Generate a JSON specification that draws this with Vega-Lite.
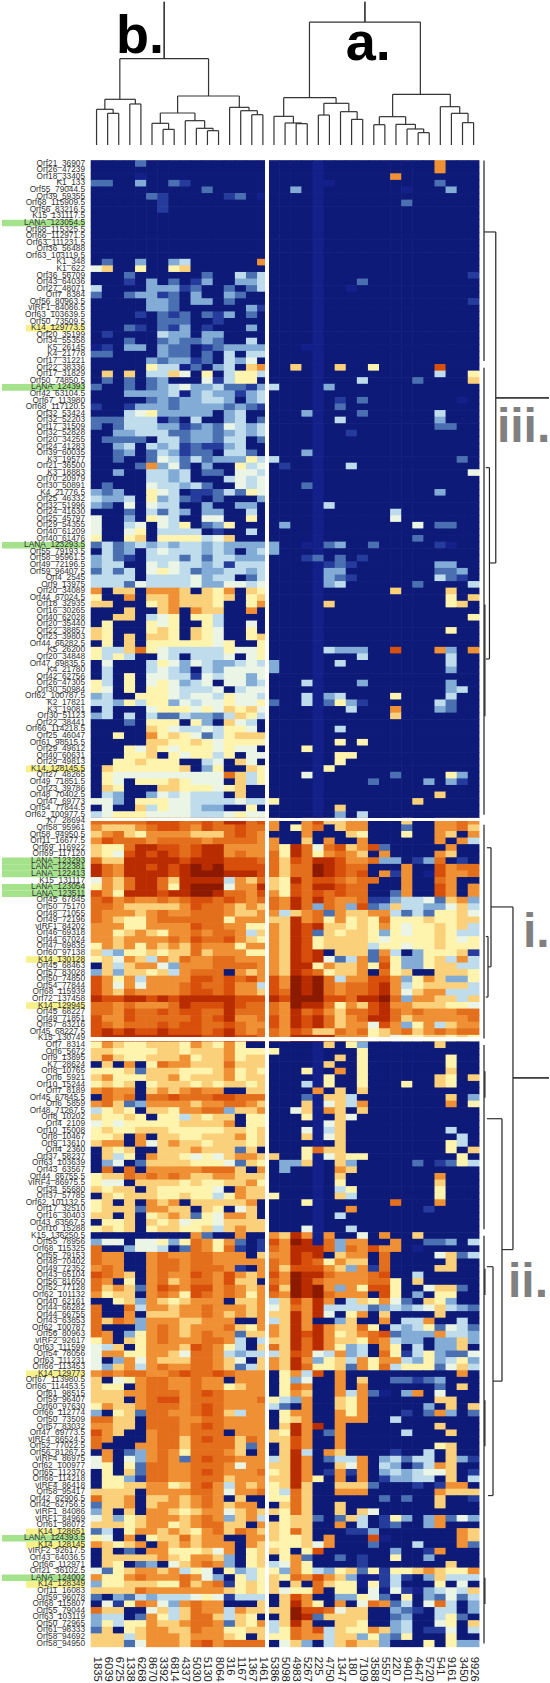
{"$schema":"https://vega.github.io/schema/vega-lite/v6.json","width":550,"height":1683,"padding":0,"autosize":{"type":"none"},"background":"white","config":{"view":{"stroke":null},"axis":{"disable":true}},
"datasets":{
"cols":[{"c":1,"n":"1835"},{"c":2,"n":"6039"},{"c":3,"n":"6725"},{"c":4,"n":"1338"},{"c":5,"n":"6268"},{"c":6,"n":"8670"},{"c":7,"n":"3392"},{"c":8,"n":"6814"},{"c":9,"n":"4337"},{"c":10,"n":"5030"},{"c":11,"n":"5130"},{"c":12,"n":"8064"},{"c":13,"n":"316"},{"c":14,"n":"1167"},{"c":15,"n":"1367"},{"c":16,"n":"1461"},{"c":17,"n":"5386"},{"c":18,"n":"5098"},{"c":19,"n":"4983"},{"c":20,"n":"5267"},{"c":21,"n":"225"},{"c":22,"n":"4750"},{"c":23,"n":"1347"},{"c":24,"n":"180"},{"c":25,"n":"7109"},{"c":26,"n":"3588"},{"c":27,"n":"5557"},{"c":28,"n":"220"},{"c":29,"n":"9401"},{"c":30,"n":"4647"},{"c":31,"n":"5720"},{"c":32,"n":"541"},{"c":33,"n":"9161"},{"c":34,"n":"3450"},{"c":35,"n":"9926"}],
"td":[{"a":2,"b":3,"t":-6.67,"l":-1.85,"r":-1.85},{"a":1,"b":2.5,"t":-7.28,"l":-1.85,"r":-6.67},{"a":4,"b":5,"t":-8.09,"l":-1.85,"r":-1.85},{"a":1.75,"b":4.5,"t":-8.8,"l":-7.28,"r":-8.09},{"a":7,"b":8,"t":-4.23,"l":-1.85,"r":-1.85},{"a":6,"b":7.5,"t":-5.15,"l":-1.85,"r":-4.23},{"a":11,"b":12,"t":-4.03,"l":-1.85,"r":-1.85},{"a":10,"b":11.5,"t":-4.39,"l":-1.85,"r":-4.03},{"a":9,"b":10.75,"t":-5.55,"l":-1.85,"r":-4.39},{"a":6.75,"b":9.875,"t":-6.72,"l":-5.15,"r":-5.55},{"a":15,"b":16,"t":-6.46,"l":-1.85,"r":-1.85},{"a":14,"b":15.5,"t":-7.07,"l":-1.85,"r":-6.46},{"a":13,"b":14.75,"t":-7.58,"l":-1.85,"r":-7.07},{"a":8.31,"b":13.875,"t":-9.3,"l":-6.72,"r":-7.58},{"a":3.1,"b":11.1,"t":-14.98,"l":-8.8,"r":-9.3},{"a":7.1,"b":7.1,"t":-23.65,"l":-14.98,"r":-14.98},{"a":19,"b":20,"t":-5.1,"l":-1.85,"r":-1.85},{"a":18,"b":19.5,"t":-5.2,"l":-1.85,"r":-5.1},{"a":17,"b":18.75,"t":-6.21,"l":-1.85,"r":-5.2},{"a":21,"b":22,"t":-6.41,"l":-1.85,"r":-1.85},{"a":24,"b":25,"t":-5.75,"l":-1.85,"r":-1.85},{"a":23,"b":24.5,"t":-6.92,"l":-1.85,"r":-5.75},{"a":21.5,"b":23.75,"t":-8.19,"l":-6.41,"r":-6.92},{"a":17.875,"b":22.6,"t":-9.05,"l":-6.21,"r":-8.19},{"a":26,"b":27,"t":-4.94,"l":-1.85,"r":-1.85},{"a":30,"b":31,"t":-3.73,"l":-1.85,"r":-1.85},{"a":29,"b":30.5,"t":-4.29,"l":-1.85,"r":-3.73},{"a":28,"b":29.75,"t":-4.99,"l":-1.85,"r":-4.29},{"a":26.5,"b":28.875,"t":-6.16,"l":-4.94,"r":-4.99},{"a":34,"b":35,"t":-5.25,"l":-1.85,"r":-1.85},{"a":33,"b":34.5,"t":-6.67,"l":-1.85,"r":-5.25},{"a":32,"b":33.75,"t":-7.68,"l":-1.85,"r":-6.67},{"a":27.7,"b":32.9,"t":-9.56,"l":-6.16,"r":-7.68},{"a":20.2,"b":30.2,"t":-20.55,"l":-9.05,"r":-9.56},{"a":25.2,"b":25.2,"t":-23.65,"l":-20.55,"r":-20.55}],
"rd":[{"a":0.5,"b":31,"t":35.94,"l":35.94,"r":35.94},{"a":32,"b":100,"t":35.94,"l":35.94,"r":35.94},{"a":101.5,"b":134,"t":35.94,"l":35.94,"r":35.94},{"a":135,"b":163,"t":35.94,"l":35.94,"r":35.94},{"a":164,"b":226,"t":35.94,"l":35.94,"r":35.94},{"a":68,"b":85,"t":36.02,"l":36.02,"r":36.02},{"a":139,"b":143,"t":36.02,"l":36.02,"r":36.02},{"a":169,"b":173,"t":36.02,"l":36.02,"r":36.02},{"a":189,"b":196,"t":36.02,"l":36.02,"r":36.02},{"a":216,"b":220,"t":36.02,"l":36.02,"r":36.02},{"a":11.37,"b":61.7,"t":37,"l":35.94,"r":36.43},{"a":47.2,"b":76.3,"t":36.43,"l":36.1,"r":36.1},{"a":36.6,"b":36.6,"t":41.8,"l":37,"r":37},{"a":114,"b":166.1,"t":38.55,"l":36.57,"r":37.56},{"a":140,"b":140,"t":41.8,"l":38.55,"r":38.55},{"a":105,"b":123.1,"t":36.57,"l":36.2,"r":36.3},{"a":118.5,"b":127.7,"t":36.3,"l":36.1,"r":36.1},{"a":146.2,"b":186.1,"t":37.56,"l":36.2,"r":36.75},{"a":168.7,"b":203.5,"t":36.75,"l":36.2,"r":36.3}],
"ann":[{"s":"b.","x":4.92,"y":-15.84,"f":"k"},{"s":"a.","x":25.5,"y":-14.8,"f":"k"},{"s":"iii.","x":37.1,"y":43.3,"f":"g"},{"s":"i.","x":39.45,"y":120.1,"f":"g"},{"s":"ii.","x":38.1,"y":173.3,"f":"g"}]
},
"data":{"values":[
{"r":1,"n":"Orf21_36907","v":[0,0,0,0,3,0,0,0,0,0,0,0,0,0,0,0,0,0,0,0,1,0,0,0,0,0,0,0,0,0,0,9,0,0,0]},
{"r":2,"n":"Orf26_47239","v":[0,0,0,0,0,0,0,0,0,0,0,0,0,0,0,0,0,0,0,0,1,0,0,0,0,0,0,0,0,0,0,9,0,0,0]},
{"r":3,"n":"Orf18_33405","v":[0,0,0,0,1,0,0,0,0,0,0,0,0,0,0,0,0,0,0,0,1,0,0,0,0,0,0,9,0,0,0,0,0,0,0]},
{"r":4,"n":"K1_133","v":[3,3,0,0,4,0,0,3,2,0,0,0,0,0,0,0,0,0,0,0,1,1,0,0,0,0,0,0,0,0,0,3,0,0,0]},
{"r":5,"n":"Orf55_79044.5","v":[0,0,0,0,0,0,0,0,0,0,3,0,0,0,0,0,0,0,4,0,1,0,0,0,0,0,0,0,1,0,0,0,4,0,0]},
{"r":6,"n":"Orf39_59355","v":[0,0,0,0,0,3,2,0,0,0,0,0,2,3,0,1,0,0,0,0,1,0,0,0,0,0,0,0,0,0,0,0,0,0,0]},
{"r":7,"n":"Orf68_115909.5","v":[0,0,0,0,0,0,2,0,0,0,0,0,0,0,0,0,0,0,0,0,1,0,0,0,0,0,0,0,3,0,0,0,0,0,0]},
{"r":8,"n":"Orf56_83216.5","v":[0,0,0,0,0,0,2,0,0,0,0,0,0,0,0,0,0,0,0,0,1,0,0,0,0,0,0,0,0,0,0,0,0,0,0]},
{"r":9,"n":"K15_131117.5","v":[0,0,0,0,0,0,0,0,0,0,0,0,0,0,0,0,0,0,0,0,1,0,0,0,0,0,0,0,0,0,0,0,0,0,0]},
{"r":10,"n":"LANA_123054.5","v":[0,0,0,0,0,0,0,0,0,0,0,0,0,0,0,0,0,0,0,0,1,0,0,0,0,0,0,0,0,0,0,0,0,0,0]},
{"r":11,"n":"Orf68_115325.5","v":[0,0,0,0,0,0,0,0,0,0,0,0,0,0,0,0,0,0,0,0,1,0,0,0,0,0,0,0,0,0,0,0,0,0,0]},
{"r":12,"n":"Orf66_112971.5","v":[0,0,0,0,0,0,0,0,0,0,0,0,0,0,0,0,0,0,0,0,1,0,0,0,0,0,0,0,0,0,0,0,0,0,0]},
{"r":13,"n":"Orf63_111231.5","v":[0,0,0,0,0,0,0,0,0,0,0,0,0,0,0,0,0,0,0,0,1,0,0,0,0,0,0,0,0,0,0,0,0,0,0]},
{"r":14,"n":"Orf36_56488","v":[0,0,0,0,0,0,0,0,0,0,0,0,0,0,0,0,0,0,0,0,1,0,0,0,0,0,0,0,0,0,0,0,0,0,0]},
{"r":15,"n":"Orf63_103119.5","v":[0,0,0,0,0,0,0,0,0,0,0,0,0,0,0,0,0,0,0,0,1,0,0,0,0,0,0,0,0,0,0,0,0,0,0]},
{"r":16,"n":"K1_348","v":[0,3,0,0,4,0,0,4,5,0,0,0,0,0,0,9,0,0,0,0,1,0,0,0,0,0,0,0,0,0,0,0,0,0,0]},
{"r":17,"n":"K1_622","v":[6,8,0,0,7,0,0,7,8,0,0,0,0,0,0,0,0,0,0,0,1,0,0,0,0,0,0,0,0,0,0,0,0,0,0]},
{"r":18,"n":"Orf36_56709","v":[0,0,0,3,0,0,0,0,0,0,3,0,0,5,3,5,0,0,0,0,1,0,0,0,0,0,0,0,0,0,0,0,0,0,2]},
{"r":19,"n":"Orf43_64036","v":[0,0,0,2,0,4,0,3,0,2,4,0,0,4,4,5,0,0,0,0,1,0,0,0,3,0,0,0,0,0,0,0,0,0,0]},
{"r":20,"n":"Orf27_48071","v":[5,0,0,0,0,4,4,4,2,3,0,0,3,0,3,5,0,0,0,0,1,0,0,1,0,0,0,0,0,0,0,0,0,0,0]},
{"r":21,"n":"Orf7_8384","v":[3,0,0,3,4,4,2,3,0,4,0,0,4,3,0,0,0,0,0,0,1,0,0,0,0,0,0,0,0,0,0,0,0,0,0]},
{"r":22,"n":"Orf56_80963.5","v":[0,0,0,0,0,4,4,3,0,4,4,0,3,0,0,0,0,0,0,0,1,0,0,0,0,0,0,0,0,0,0,0,0,0,2]},
{"r":23,"n":"vIRF1_84086.5","v":[0,0,0,0,0,4,4,3,0,0,0,0,0,0,4,2,0,0,0,0,1,0,0,0,0,0,0,0,0,0,0,0,0,0,0]},
{"r":24,"n":"Orf63_103639.5","v":[0,0,0,0,2,0,3,2,3,0,3,2,4,0,3,0,0,0,0,0,1,0,0,0,0,0,0,0,0,0,0,0,0,0,0]},
{"r":25,"n":"Orf50_73509.5","v":[0,0,0,0,0,0,3,3,3,0,0,2,0,0,0,0,0,0,0,0,1,0,0,0,0,0,0,0,0,0,0,0,0,0,0]},
{"r":26,"n":"K14_129773.5","v":[0,0,0,3,2,0,3,2,4,0,2,0,0,0,4,0,0,0,0,0,1,0,0,0,0,0,0,0,0,0,0,0,0,0,0]},
{"r":27,"n":"Orf20_35199","v":[0,2,0,0,0,0,5,4,4,0,4,4,0,0,0,0,0,0,0,0,1,0,0,0,0,0,0,0,0,0,0,0,0,0,0]},
{"r":28,"n":"Orf34_55358","v":[0,0,0,3,0,0,3,4,3,3,4,3,0,0,5,0,0,0,0,0,1,0,0,0,0,0,0,0,0,0,0,0,0,0,0]},
{"r":29,"n":"K5_26145","v":[1,2,0,4,4,0,4,3,3,0,2,3,4,4,4,4,0,0,0,1,1,0,0,0,0,0,0,0,0,0,0,0,0,0,0]},
{"r":30,"n":"K4_21778","v":[3,3,0,0,0,0,4,3,3,0,3,0,5,0,5,5,0,0,0,0,1,0,0,0,0,0,0,0,0,0,0,0,0,0,0]},
{"r":31,"n":"Orf17_31221","v":[0,0,0,0,0,4,3,4,4,2,3,0,5,4,6,0,0,0,0,0,1,0,0,0,0,0,0,0,0,0,0,0,0,0,0]},
{"r":32,"n":"Orf22_38336","v":[0,0,0,0,0,7,5,5,1,3,0,4,5,0,8,9,0,0,8,0,1,0,8,0,0,7,0,0,0,0,0,11,0,0,0]},
{"r":33,"n":"Orf17_31829","v":[0,8,0,8,0,5,5,8,6,0,7,0,5,7,7,5,0,0,0,0,1,0,0,0,0,0,0,0,0,0,0,5,0,0,7]},
{"r":34,"n":"Orf50_74850.5","v":[0,3,0,3,0,3,4,0,0,0,6,2,5,7,7,0,0,0,0,0,1,0,0,0,5,0,0,0,0,3,0,0,0,0,8]},
{"r":35,"n":"LANA_124393","v":[3,0,0,3,0,3,4,5,6,4,4,5,3,3,2,4,5,0,0,0,1,4,0,0,0,0,0,0,0,0,0,0,0,0,0]},
{"r":36,"n":"Orf42_63104.5","v":[0,0,0,4,4,4,4,5,1,4,5,4,4,2,4,5,0,0,0,0,1,0,0,0,0,0,0,0,0,0,0,0,0,0,0]},
{"r":37,"n":"Orf67_113980","v":[0,0,0,0,0,3,4,3,4,4,5,5,4,0,4,5,0,0,0,0,1,0,2,0,3,0,0,0,0,0,0,0,0,1,0]},
{"r":38,"n":"Orf68_117120.5","v":[2,0,0,2,4,4,4,3,4,4,4,4,3,4,3,2,0,0,0,0,1,0,3,0,0,0,0,0,0,0,0,0,0,0,0]},
{"r":39,"n":"Orf32_53424","v":[0,0,0,5,6,7,4,4,4,4,4,0,4,5,0,0,0,0,0,4,1,0,0,0,3,0,0,0,0,0,0,5,0,0,0]},
{"r":40,"n":"Orf32_52203","v":[3,3,3,5,5,5,1,3,0,5,0,0,4,5,0,3,0,0,0,0,1,0,5,0,0,0,0,0,0,0,0,4,0,0,0]},
{"r":41,"n":"Orf17_31509","v":[3,0,3,5,5,5,4,4,2,3,4,3,6,5,4,5,0,0,0,0,1,0,0,0,0,0,0,0,0,0,0,3,3,0,0]},
{"r":42,"n":"Orf32_52828","v":[0,0,4,4,5,5,5,3,3,4,4,3,4,5,4,5,0,0,0,0,1,0,0,2,0,0,0,0,0,0,0,0,0,0,0]},
{"r":43,"n":"Orf20_34255","v":[0,3,3,3,3,0,5,5,3,4,4,3,5,5,0,3,0,0,0,0,1,0,0,0,0,0,0,0,0,0,0,0,0,0,0]},
{"r":44,"n":"Orf24_41283","v":[0,0,4,5,0,5,4,5,2,3,2,2,4,5,0,0,0,0,0,0,1,0,0,0,0,0,0,0,0,0,0,0,0,0,0]},
{"r":45,"n":"Orf39_60035","v":[0,0,3,4,0,3,5,4,2,3,3,0,5,5,3,0,0,0,0,4,1,0,0,0,0,0,0,0,0,0,0,0,0,0,0]},
{"r":46,"n":"K3_19577","v":[0,0,3,0,0,3,6,5,3,5,3,4,4,4,7,5,5,0,0,0,1,0,0,0,0,0,0,0,0,0,0,0,0,3,0]},
{"r":47,"n":"Orf21_36500","v":[0,0,0,0,3,9,4,6,3,0,4,0,0,7,5,6,0,2,0,0,1,0,0,5,0,0,0,0,0,0,0,0,0,0,0]},
{"r":48,"n":"K3_18883","v":[0,0,4,0,0,5,5,4,5,0,3,3,0,6,6,5,0,0,0,0,1,0,0,0,0,0,0,0,0,0,0,0,0,0,6]},
{"r":49,"n":"Orf70_20979","v":[0,0,0,0,0,5,5,4,5,0,0,0,5,6,5,6,0,0,0,0,1,0,0,0,0,0,0,0,0,0,0,0,0,0,0]},
{"r":50,"n":"Orf30_50891","v":[0,3,0,0,0,6,5,5,4,5,3,0,0,6,5,6,0,0,0,3,1,0,0,0,0,0,0,0,0,0,0,0,0,0,0]},
{"r":51,"n":"K4_21776.5","v":[4,3,4,0,0,7,6,5,0,2,2,3,5,3,7,6,0,0,0,0,1,0,0,0,0,0,0,0,0,0,0,4,0,0,0]},
{"r":52,"n":"Orf25_46332","v":[5,4,4,5,0,7,4,5,3,2,0,3,0,0,0,4,0,0,0,0,1,0,0,0,0,0,0,0,0,0,0,0,0,0,0]},
{"r":53,"n":"Orf32_51996","v":[4,3,0,6,0,6,5,5,0,0,4,0,0,4,4,0,0,0,0,0,1,5,0,0,0,0,0,0,0,0,0,0,0,0,0]},
{"r":54,"n":"Orf24_41630","v":[0,0,0,3,0,5,3,5,4,0,4,4,0,0,5,0,0,0,0,0,1,0,0,0,0,0,0,5,0,0,0,0,0,0,0]},
{"r":55,"n":"Orf25_45797","v":[6,0,0,4,0,7,6,5,0,0,6,6,0,0,7,0,0,0,0,0,1,0,0,0,0,0,0,6,0,0,0,0,0,0,0]},
{"r":56,"n":"Orf29_54355","v":[6,0,0,5,6,0,6,5,7,0,3,4,7,0,0,0,0,4,0,0,1,0,0,0,0,0,0,0,0,6,0,3,3,0,0]},
{"r":57,"n":"Orf40_61209","v":[6,0,0,6,7,0,5,5,5,5,0,2,0,0,5,0,0,0,0,0,1,0,0,0,0,0,0,0,0,0,0,0,0,0,0]},
{"r":58,"n":"Orf40_61476","v":[7,0,0,7,8,0,7,7,7,7,5,6,8,0,0,0,0,0,0,0,1,0,0,0,0,0,0,0,0,3,0,0,0,0,0]},
{"r":59,"n":"LANA_123293.5","v":[3,5,3,4,5,4,5,4,5,5,4,5,4,4,4,4,4,0,0,1,1,3,4,0,0,3,0,0,0,0,0,2,1,0,0]},
{"r":60,"n":"Orf55_79193.5","v":[0,5,3,4,0,5,6,5,5,5,4,5,4,0,4,5,4,0,0,0,1,0,0,0,0,0,0,0,0,0,0,0,0,0,0]},
{"r":61,"n":"Orf58_95961.5","v":[4,5,3,2,0,5,5,5,3,5,3,5,5,4,4,4,0,0,0,2,3,0,3,0,2,0,0,0,0,0,0,0,0,0,0]},
{"r":62,"n":"Orf49_72196.5","v":[4,5,5,0,0,6,5,6,5,5,4,5,2,5,5,5,0,0,0,0,1,2,3,2,0,0,0,0,0,0,0,4,4,0,0]},
{"r":63,"n":"Orf59_96407.5","v":[3,5,3,5,0,6,7,6,5,3,4,4,5,5,4,5,0,0,0,0,1,4,4,0,0,0,0,0,0,0,0,3,3,4,0]},
{"r":64,"n":"Orf4_2545","v":[5,5,5,5,0,5,5,5,5,6,4,5,5,0,3,5,0,0,0,0,1,4,3,2,0,0,0,0,0,0,0,5,3,2,0]},
{"r":65,"n":"Orf9_13975","v":[5,5,5,3,6,5,5,5,5,6,4,4,6,6,5,6,0,0,0,0,1,4,5,0,0,0,0,0,0,3,0,0,0,0,5]},
{"r":66,"n":"Orf20_34089","v":[9,0,8,8,0,9,9,9,8,0,8,7,9,0,8,7,0,0,0,0,1,0,0,0,0,0,0,8,0,0,0,0,8,0,0]},
{"r":67,"n":"Orf44_67024.5","v":[7,0,0,9,0,8,8,9,8,8,8,7,8,0,7,8,0,0,0,0,1,0,0,0,0,0,0,0,0,0,0,0,7,0,8]},
{"r":68,"n":"Orf18_32935","v":[8,8,0,0,0,7,8,9,8,8,8,7,0,0,7,9,0,0,0,0,1,8,0,0,0,0,0,0,0,0,0,0,7,8,0]},
{"r":69,"n":"Orf16_30265","v":[0,0,0,8,0,0,8,9,0,9,8,8,0,0,9,0,0,0,0,0,1,0,0,0,0,0,0,0,0,0,0,0,0,0,0]},
{"r":70,"n":"Orf40_62028","v":[0,0,8,8,0,5,6,7,0,7,7,5,0,0,0,0,0,0,0,0,1,0,0,0,0,0,0,0,0,0,0,0,0,0,7]},
{"r":71,"n":"Orf20_35440","v":[0,7,0,0,0,7,6,7,0,0,7,5,0,0,6,0,0,0,0,0,1,0,0,0,0,0,0,0,0,0,0,0,0,0,0]},
{"r":72,"n":"Orf22_38857","v":[8,7,0,0,0,7,8,7,0,8,7,6,0,0,7,0,0,0,0,0,1,0,0,0,0,0,0,0,0,0,0,0,7,0,0]},
{"r":73,"n":"Orf23_39803","v":[8,7,0,8,0,8,8,7,0,8,7,6,0,0,7,8,0,0,0,0,1,0,0,0,0,0,0,0,0,0,0,0,0,0,0]},
{"r":74,"n":"Orf44_66282.5","v":[0,7,0,8,0,7,7,7,7,7,7,6,7,0,0,7,0,0,0,0,1,0,0,0,0,0,0,0,0,0,0,0,0,0,0]},
{"r":75,"n":"K5_26200","v":[7,5,5,8,10,7,6,5,5,5,5,5,7,6,6,7,0,0,0,0,1,5,4,4,4,0,0,11,0,0,0,9,4,0,9]},
{"r":76,"n":"Orf20_34848","v":[7,5,7,5,0,0,6,5,0,5,5,5,6,0,6,7,0,0,0,0,1,0,0,0,5,0,0,0,0,0,0,0,5,0,0]},
{"r":77,"n":"Orf47_69835.5","v":[0,6,0,0,0,5,7,6,4,6,5,4,4,5,6,5,4,0,0,0,1,0,5,0,0,0,0,0,0,0,0,0,5,0,0]},
{"r":78,"n":"K4_21780","v":[0,5,0,0,0,5,6,5,4,0,5,4,6,6,6,6,4,0,0,0,1,0,0,0,0,0,0,0,0,0,0,0,4,0,0]},
{"r":79,"n":"Orf42_62756","v":[0,5,0,7,0,6,6,5,5,2,6,5,6,6,4,6,0,0,0,0,1,0,0,0,0,0,0,0,0,0,0,0,0,0,0]},
{"r":80,"n":"Orf26_47305","v":[7,5,0,7,0,6,7,6,4,5,6,0,6,6,4,5,0,0,0,5,1,0,0,0,4,0,0,0,0,0,0,0,4,0,0]},
{"r":81,"n":"Orf30_50984","v":[7,6,0,7,0,7,7,6,5,5,5,6,0,5,6,6,0,0,0,0,1,0,0,0,0,0,0,0,0,0,0,0,4,5,0]},
{"r":82,"n":"Orf62_100787.5","v":[4,5,0,0,7,7,7,6,5,6,6,5,7,6,6,5,0,0,0,5,1,4,5,0,0,0,0,7,0,0,0,0,5,0,0]},
{"r":83,"n":"K2_17821","v":[5,5,4,7,5,7,7,4,6,5,6,6,7,6,6,7,3,0,0,5,1,3,7,4,2,0,0,0,0,0,0,5,3,0,0]},
{"r":84,"n":"K3_19081","v":[0,5,0,0,0,6,7,7,7,6,7,6,8,7,8,6,0,0,0,0,1,0,0,5,0,0,0,9,0,0,0,4,3,0,0]},
{"r":85,"n":"Orf30_51123","v":[4,5,0,5,0,5,3,3,5,4,4,3,5,8,7,5,0,0,0,0,1,0,0,0,0,0,0,8,0,0,0,0,0,0,0]},
{"r":86,"n":"Orf22_38441","v":[0,0,0,3,0,7,7,7,0,7,4,0,8,6,5,0,0,0,0,0,1,0,0,0,0,0,0,0,0,0,0,0,0,0,0]},
{"r":87,"n":"Orf66_114218.5","v":[0,0,0,0,0,8,7,6,5,5,6,5,7,7,6,0,0,0,0,0,1,0,5,0,0,0,0,0,0,0,0,0,0,0,0]},
{"r":88,"n":"Orf25_46047","v":[0,0,7,0,0,9,7,8,7,6,3,5,7,8,8,8,0,0,0,0,1,0,0,0,0,0,0,0,0,0,0,0,0,0,0]},
{"r":89,"n":"Orf61_98515.5","v":[0,0,0,0,0,8,8,7,7,8,7,6,7,7,7,7,0,0,0,0,1,0,7,0,7,0,0,0,0,0,0,0,0,0,0]},
{"r":90,"n":"Orf29_49612","v":[0,0,0,7,6,8,7,6,7,7,7,6,7,6,6,0,0,0,0,7,1,0,0,0,0,0,0,0,0,0,0,0,0,0,0]},
{"r":91,"n":"Orf40_60631","v":[0,0,0,7,7,8,0,7,6,7,7,5,7,0,6,6,0,0,0,0,1,0,7,7,0,0,0,0,0,0,0,0,0,0,0]},
{"r":92,"n":"Orf29_49813","v":[0,0,7,7,8,7,7,7,0,0,5,6,0,8,6,0,0,0,0,0,1,0,7,0,0,0,0,0,0,0,0,0,0,0,0]},
{"r":93,"n":"K14_128145.5","v":[0,8,7,7,7,7,7,7,8,0,4,7,0,0,8,7,0,0,0,0,1,7,0,0,0,0,0,0,0,0,0,0,0,0,0]},
{"r":94,"n":"Orf27_48265","v":[0,7,6,6,6,6,6,6,6,6,6,6,10,8,5,7,0,0,0,6,1,0,0,0,0,0,0,3,0,0,0,0,7,4,0]},
{"r":95,"n":"Orf49_71851.5","v":[0,7,6,0,7,7,7,8,7,6,6,6,0,8,5,7,0,0,0,0,1,0,0,0,0,3,0,0,0,0,4,0,4,2,0]},
{"r":96,"n":"Orf23_39786","v":[0,8,7,0,0,0,8,8,7,7,7,6,7,8,0,0,0,0,0,0,1,0,0,0,0,0,0,0,0,0,0,0,0,0,0]},
{"r":97,"n":"Orf48_70402.5","v":[0,5,4,0,0,4,6,5,6,5,5,5,0,8,0,0,0,0,0,0,1,0,0,0,0,0,0,0,0,0,0,8,0,0,0]},
{"r":98,"n":"Orf47_69773","v":[6,6,4,0,7,7,7,6,6,5,5,5,5,6,5,5,7,0,0,0,1,0,0,0,0,0,0,0,0,8,0,0,0,0,0]},
{"r":99,"n":"Orf54_77844.5","v":[0,6,0,0,8,5,7,6,6,5,4,4,0,0,7,0,0,0,0,0,1,0,8,0,0,0,0,0,0,0,0,0,0,0,0]},
{"r":100,"n":"Orf62_100977.5","v":[5,6,7,7,7,6,6,6,6,5,5,5,6,7,6,6,0,0,0,0,1,0,4,0,5,0,0,0,0,0,0,0,0,0,0]},
{"r":101,"n":"K7_28694","v":[10,10,10,10,10,11,11,11,10,10,11,10,12,12,10,11,9,0,0,9,11,8,8,9,9,0,0,0,8,0,0,9,9,10,9]},
{"r":102,"n":"Orf58_95961","v":[9,8,8,8,9,10,11,11,10,9,11,10,10,11,10,10,9,0,7,9,10,0,8,9,9,0,0,0,3,0,0,9,9,10,8]},
{"r":103,"n":"Orf58_94950.5","v":[8,9,10,8,7,9,9,9,9,8,8,8,10,11,10,9,0,0,0,9,0,0,0,8,7,0,0,0,7,0,0,9,8,0,9]},
{"r":104,"n":"Orf11_16677.5","v":[9,11,10,10,10,9,10,10,10,10,9,10,10,10,10,9,9,0,0,8,0,9,0,0,9,0,0,0,0,0,0,9,0,9,5]},
{"r":105,"n":"Orf69_116922","v":[8,7,7,10,12,12,11,11,10,11,12,12,9,9,9,9,9,7,12,10,6,10,11,8,9,11,3,0,0,0,0,0,9,0,0]},
{"r":106,"n":"Orf69_117120","v":[8,7,6,11,12,11,12,11,10,11,12,12,9,10,9,9,10,7,12,10,7,9,10,9,8,0,9,0,0,0,0,9,8,0,0]},
{"r":107,"n":"LANA_123293","v":[10,8,8,12,12,12,12,12,11,12,12,12,11,11,11,10,10,8,11,10,12,12,11,9,9,10,4,4,0,2,4,10,0,2,0]},
{"r":108,"n":"LANA_122381","v":[12,10,9,12,12,11,12,11,12,13,12,13,11,11,11,11,10,8,10,10,13,12,11,10,10,0,0,0,9,0,0,11,9,10,10]},
{"r":109,"n":"LANA_122413","v":[12,10,9,12,12,12,12,11,12,13,13,13,12,12,12,11,10,8,10,10,13,12,11,10,11,0,9,2,9,0,1,11,9,9,10]},
{"r":110,"n":"K15_131117","v":[6,9,8,10,12,12,10,8,12,12,12,12,5,9,8,10,8,7,12,10,11,11,10,9,10,10,0,0,9,0,0,10,9,0,0]},
{"r":111,"n":"LANA_123054","v":[7,9,8,10,12,12,10,7,12,13,13,13,6,9,9,12,8,7,11,10,12,12,11,10,10,0,0,0,9,0,0,11,9,0,9]},
{"r":112,"n":"LANA_123511","v":[11,9,7,12,12,12,11,12,12,13,13,12,10,10,9,11,9,7,11,10,11,10,11,10,10,0,0,3,9,0,0,11,9,0,9]},
{"r":113,"n":"Orf45_67845","v":[10,11,9,10,9,9,10,9,10,11,11,10,11,10,9,10,10,9,12,10,12,10,9,9,10,2,2,4,5,5,6,3,8,9,4]},
{"r":114,"n":"Orf50_75170","v":[10,10,9,8,8,8,8,8,9,11,10,10,9,8,9,8,10,9,12,10,4,10,9,4,11,3,4,8,5,5,4,4,6,8,5]},
{"r":115,"n":"Orf48_71055","v":[10,9,9,9,8,9,10,9,9,10,10,10,9,8,8,9,9,5,8,9,10,3,9,8,8,9,9,5,3,5,3,7,7,8,6]},
{"r":116,"n":"Orf49_72196","v":[10,9,8,7,7,9,10,10,10,10,10,10,7,9,9,9,8,8,12,9,10,7,9,7,8,7,10,7,7,7,8,7,7,8,8]},
{"r":117,"n":"vIRF1_84202","v":[9,9,9,7,7,9,9,9,9,11,10,10,9,9,7,7,9,8,12,11,12,8,8,7,8,7,9,7,6,7,7,8,7,8,5]},
{"r":118,"n":"Orf46_69318","v":[9,9,7,8,9,8,7,9,9,10,9,10,10,9,5,8,9,8,12,11,3,8,7,8,8,7,4,7,6,7,7,8,7,5,5]},
{"r":119,"n":"Orf44_67024","v":[9,9,8,9,9,9,9,10,9,11,10,10,11,9,8,7,9,8,12,11,7,8,8,8,8,7,6,7,7,7,7,8,7,6,7]},
{"r":120,"n":"Orf47_69835","v":[7,9,8,9,7,9,8,9,8,10,9,9,9,7,9,9,9,8,12,11,7,8,8,8,8,5,7,7,6,7,7,8,7,7,7]},
{"r":121,"n":"Orf60_97138","v":[8,5,4,7,7,8,7,8,8,10,8,9,9,9,7,7,9,8,12,11,12,0,8,8,8,3,9,5,0,4,7,7,7,8,2]},
{"r":122,"n":"K14_130128","v":[7,8,6,9,8,5,9,8,10,9,9,10,10,9,9,9,9,8,12,11,12,6,3,5,9,3,10,7,4,4,7,8,5,9,5]},
{"r":123,"n":"Orf45_68463","v":[0,8,5,8,9,9,6,4,9,9,9,10,10,10,10,9,9,8,12,12,7,9,8,8,9,7,11,7,4,4,7,8,8,5,5]},
{"r":124,"n":"Orf57_83028","v":[4,8,4,8,8,7,8,5,9,10,10,10,0,9,8,9,9,8,12,11,10,7,8,8,9,0,10,7,8,0,0,8,8,8,7]},
{"r":125,"n":"Orf50_74850","v":[11,9,7,9,5,9,9,9,9,11,11,10,11,10,11,9,11,9,13,12,13,10,5,9,9,11,11,9,4,7,9,8,4,4,7]},
{"r":126,"n":"Orf54_77844","v":[11,9,6,9,6,9,9,9,10,11,10,10,11,9,9,5,11,9,13,12,13,10,9,10,10,11,12,9,5,7,8,8,8,8,5]},
{"r":127,"n":"Orf68_115939","v":[11,9,8,10,9,9,9,9,10,11,11,10,11,9,9,8,11,10,13,12,13,10,9,10,10,11,12,9,6,8,9,9,5,5,5]},
{"r":128,"n":"Orf72_137458","v":[12,11,11,12,12,11,12,11,12,12,12,12,12,11,11,11,12,11,13,13,13,11,11,10,12,12,13,10,4,9,9,8,8,5,8]},
{"r":129,"n":"K14_129945","v":[10,10,9,10,9,9,9,10,12,11,11,11,12,11,10,10,10,9,13,12,12,10,7,9,8,11,12,9,9,8,8,8,7,7,6]},
{"r":130,"n":"Orf45_68227","v":[10,10,9,11,10,10,11,10,11,11,10,10,12,10,10,10,10,9,12,10,11,9,8,10,10,11,12,10,9,10,9,9,9,10,10]},
{"r":131,"n":"Orf49_71851","v":[11,9,9,11,10,10,10,10,10,11,10,11,12,9,9,10,11,9,12,11,12,10,8,9,10,12,12,10,8,9,9,9,9,9,10]},
{"r":132,"n":"Orf57_83216","v":[11,10,9,10,10,10,11,10,11,11,10,10,11,10,9,9,11,9,12,11,12,10,8,9,9,6,11,9,4,7,9,5,8,9,9]},
{"r":133,"n":"Orf45_68227.5","v":[11,12,11,12,11,11,12,11,11,11,10,11,12,10,9,10,10,9,11,10,8,8,10,9,10,7,8,9,10,8,9,10,9,10,10]},
{"r":134,"n":"K15_130749","v":[11,12,12,12,12,12,12,12,12,12,11,11,12,11,11,10,10,9,12,12,12,12,9,9,9,7,8,6,7,7,8,8,7,8,7]},
{"r":135,"n":"Orf7_8314","v":[7,9,8,7,7,8,8,8,7,9,8,7,9,7,0,0,0,0,0,0,1,8,0,7,4,0,0,0,0,0,0,8,0,0,0]},
{"r":136,"n":"Orf6_5672","v":[8,8,7,7,7,7,8,8,7,8,8,8,9,7,7,7,7,0,0,0,1,0,0,0,7,0,0,0,0,0,0,0,0,0,0]},
{"r":137,"n":"Orf9_13895","v":[8,10,8,7,7,8,8,8,9,7,8,8,9,7,8,8,0,0,0,0,1,0,8,0,7,0,0,0,0,0,0,0,7,0,0]},
{"r":138,"n":"K7_28624","v":[0,8,0,9,0,7,10,9,9,8,8,8,10,8,8,8,0,0,0,0,1,8,0,0,7,0,0,0,0,0,0,0,7,0,0]},
{"r":139,"n":"Orf8_10765","v":[7,7,7,8,3,8,8,8,7,7,7,8,9,7,8,7,0,0,0,7,1,0,9,0,7,0,0,0,0,0,0,0,8,0,0]},
{"r":140,"n":"Orf6_5921","v":[8,9,7,7,7,8,8,9,7,8,8,8,9,7,8,8,0,0,0,0,1,7,0,0,7,0,0,0,0,0,0,8,7,0,8]},
{"r":141,"n":"Orf10_15244","v":[7,8,7,8,0,7,8,8,8,7,8,7,8,8,7,8,0,0,0,5,1,7,0,0,7,0,0,0,7,0,0,8,7,0,0]},
{"r":142,"n":"Orf7_8189","v":[9,10,9,9,0,8,9,8,9,10,9,9,0,0,8,8,0,0,0,0,9,0,8,0,8,0,0,0,0,0,0,0,0,0,0]},
{"r":143,"n":"Orf45_67845.5","v":[0,10,9,10,0,10,10,11,10,10,10,11,11,10,10,10,0,0,0,3,1,8,8,5,0,0,0,0,0,0,0,0,8,0,4]},
{"r":144,"n":"Orf6_5859","v":[9,10,8,3,4,9,9,9,9,8,9,9,10,10,9,8,0,0,0,8,1,6,8,5,9,0,0,0,0,0,0,0,9,0,7]},
{"r":145,"n":"Orf48_71267.5","v":[5,7,8,7,0,8,8,7,9,9,10,10,4,8,8,9,0,0,6,8,1,9,8,0,8,0,0,0,0,0,0,0,0,0,0]},
{"r":146,"n":"Orf8_10202","v":[8,7,7,8,7,0,7,7,5,8,7,8,8,0,7,7,0,0,0,7,1,0,8,6,0,0,0,0,0,0,0,0,0,0,0]},
{"r":147,"n":"Orf4_2109","v":[6,7,6,7,7,7,7,7,8,8,8,8,9,0,7,7,0,0,0,0,1,6,8,0,0,0,0,0,0,0,0,0,0,0,0]},
{"r":148,"n":"Orf10_15008","v":[7,8,7,7,8,8,8,7,7,7,7,7,8,8,7,8,0,0,0,6,1,5,8,0,0,0,0,0,0,0,0,0,5,0,0]},
{"r":149,"n":"Orf8_10467","v":[7,7,8,0,9,0,8,8,7,7,8,8,8,9,7,8,0,0,0,8,1,6,8,0,0,0,0,0,0,0,0,0,0,5,0]},
{"r":150,"n":"Orf9_13610","v":[8,9,9,0,9,6,8,9,8,8,7,8,8,8,7,8,0,0,0,0,1,0,8,0,0,0,0,0,0,0,0,0,7,5,0]},
{"r":151,"n":"Orf4_2360","v":[0,8,7,8,0,0,8,8,8,9,8,8,8,3,8,0,0,0,0,7,10,8,8,0,0,0,0,0,0,0,0,0,7,0,8]},
{"r":152,"n":"Orf37_58237","v":[0,8,5,7,0,9,8,8,7,6,7,6,8,9,9,8,8,0,0,7,1,6,8,7,7,0,0,0,0,0,0,0,0,7,0]},
{"r":153,"n":"Orf63_103639","v":[0,4,6,0,3,8,8,8,8,7,7,7,6,3,8,7,0,4,4,8,1,0,8,4,0,0,0,0,0,3,0,2,3,7,5]},
{"r":154,"n":"Orf43_63567","v":[0,10,0,10,0,9,9,9,9,9,10,10,10,8,0,9,0,4,0,0,1,0,9,8,0,0,0,0,0,0,0,0,0,0,0]},
{"r":155,"n":"Orf44_66755.5","v":[7,8,8,10,9,10,9,10,9,8,8,9,9,8,8,8,0,0,0,0,1,0,8,0,0,0,0,0,0,0,0,9,0,0,0]},
{"r":156,"n":"vIRF4_86975.5","v":[7,6,6,0,8,8,8,8,7,8,7,7,8,8,9,7,0,0,0,0,1,0,7,0,0,0,0,0,0,0,0,8,0,0,0]},
{"r":157,"n":"Orf34_55680","v":[8,7,8,8,0,8,7,7,7,7,7,6,0,9,8,8,0,0,0,0,1,0,5,7,0,0,0,0,0,0,0,7,0,0,0]},
{"r":158,"n":"Orf37_57785","v":[0,8,7,8,8,8,7,7,8,7,7,5,7,9,8,8,7,0,0,0,1,0,8,5,0,0,0,0,0,0,0,7,0,0,0]},
{"r":159,"n":"Orf62_101132.5","v":[7,8,0,8,0,9,8,9,0,8,8,8,8,8,9,0,0,0,0,7,1,0,0,0,0,0,0,10,0,0,0,9,0,0,0]},
{"r":160,"n":"Orf17_32510","v":[7,8,8,8,3,9,9,8,8,0,8,7,0,6,8,0,0,0,0,0,1,0,0,9,0,0,0,0,0,0,2,0,0,0,0]},
{"r":161,"n":"Orf16_30403","v":[8,8,0,8,0,7,8,9,8,3,7,6,9,9,8,0,0,0,0,0,1,0,5,0,0,0,0,0,0,0,0,0,0,0,0]},
{"r":162,"n":"Orf43_63567.5","v":[0,7,7,8,0,8,7,8,6,7,7,6,8,8,8,8,0,0,0,0,1,0,0,0,0,0,0,0,0,0,0,0,0,0,0]},
{"r":163,"n":"Orf10_15288","v":[7,8,7,8,0,7,8,8,7,7,8,5,8,9,8,8,0,0,0,6,1,0,0,5,0,0,0,0,0,0,0,0,0,0,0]},
{"r":164,"n":"K15_136250.5","v":[0,0,0,0,0,0,0,0,0,9,3,0,0,9,0,0,9,8,12,9,1,9,0,0,6,0,9,0,0,8,0,0,0,0,0]},
{"r":165,"n":"Orf55_78956","v":[4,6,6,0,6,6,7,4,7,10,9,7,9,3,0,2,11,9,13,12,1,10,4,9,9,0,0,9,0,0,3,3,4,0,5]},
{"r":166,"n":"Orf68_115325","v":[10,0,0,4,6,6,5,0,3,10,9,7,10,2,0,2,10,9,12,12,12,10,4,10,9,11,9,9,0,1,0,0,0,0,0]},
{"r":167,"n":"Orf55_79153","v":[10,9,9,0,0,9,10,9,9,10,10,9,9,9,0,8,9,9,12,11,12,0,8,9,9,0,10,0,0,0,0,6,8,3,5]},
{"r":168,"n":"Orf48_70402","v":[10,9,9,0,0,9,10,10,9,10,10,9,9,9,9,9,10,9,12,11,10,7,9,8,8,0,10,0,0,0,0,0,8,0,0]},
{"r":169,"n":"Orf49_72352","v":[9,10,9,0,0,9,10,10,9,10,10,10,9,2,0,9,10,8,11,11,11,9,8,4,9,2,10,0,0,0,0,8,8,0,0]},
{"r":170,"n":"Orf43_65104","v":[11,10,9,8,0,9,10,9,9,11,10,9,11,9,8,9,11,9,13,12,12,10,9,9,9,10,11,0,0,5,0,0,0,0,0]},
{"r":171,"n":"Orf56_81650","v":[10,9,0,7,0,9,10,8,9,10,10,9,11,8,8,0,10,9,13,12,10,9,9,9,9,10,10,7,0,8,0,0,0,0,0]},
{"r":172,"n":"Orf52_77128","v":[10,8,9,8,3,9,11,10,9,11,11,9,10,9,8,9,11,8,13,12,13,9,4,9,7,11,11,7,0,0,6,8,8,3,0]},
{"r":173,"n":"Orf62_101132","v":[9,7,8,8,0,9,10,9,7,11,10,9,10,9,7,9,10,9,13,12,13,10,9,9,9,0,11,7,0,4,0,7,7,0,0]},
{"r":174,"n":"Orf40_62161","v":[0,0,7,8,4,9,8,7,8,9,9,9,0,8,8,9,5,8,11,9,12,9,0,5,8,7,9,6,3,0,8,7,4,0,0]},
{"r":175,"n":"Orf44_66282","v":[10,0,0,10,5,9,9,8,9,9,10,9,9,9,8,9,6,8,10,9,12,5,5,5,5,3,4,5,4,5,6,8,5,4,3]},
{"r":176,"n":"Orf44_66755","v":[10,0,0,9,0,8,8,8,9,9,10,9,8,9,8,9,8,8,12,9,12,6,0,7,9,0,8,0,0,0,0,8,0,0,0]},
{"r":177,"n":"Orf43_63853","v":[10,8,10,9,4,9,9,9,8,8,9,9,9,0,0,9,5,8,12,9,0,0,4,8,0,0,9,0,5,5,9,0,0,5,0]},
{"r":178,"n":"Orf62_100787","v":[10,0,0,0,4,9,10,9,8,9,9,9,10,8,7,9,9,8,12,9,12,9,8,8,10,7,0,5,4,5,7,3,6,5,3]},
{"r":179,"n":"Orf56_80963","v":[10,9,0,4,7,9,10,9,8,9,10,9,9,3,8,8,9,8,12,11,12,9,7,8,9,10,11,3,4,4,4,9,5,5,4]},
{"r":180,"n":"vIRF2_92617","v":[7,9,0,8,7,9,10,9,9,9,10,10,9,5,0,5,8,8,12,10,12,9,8,8,7,10,9,5,4,4,0,4,4,8,4]},
{"r":181,"n":"Orf63_111599","v":[6,5,8,0,7,9,9,9,8,11,10,9,7,5,0,8,10,8,12,10,12,9,7,4,5,0,9,7,0,5,0,4,4,8,0]},
{"r":182,"n":"Orf54_78056","v":[6,9,9,7,7,9,9,8,6,10,10,9,5,4,5,5,5,8,11,10,6,5,9,4,5,0,10,7,2,5,7,4,3,3,6]},
{"r":183,"n":"Orf63_111231","v":[6,0,4,9,6,9,8,8,8,10,10,9,8,6,0,8,9,8,12,9,4,7,8,5,9,7,9,9,5,4,7,4,5,7,4]},
{"r":184,"n":"Orf66_113453","v":[6,4,8,9,5,9,10,9,9,10,10,9,8,3,5,8,9,8,12,10,7,7,8,3,9,7,10,5,7,7,7,3,6,8,5]},
{"r":185,"n":"K14_129773","v":[9,10,9,10,10,9,9,10,11,10,10,11,10,9,9,9,0,7,9,5,11,0,9,0,0,0,0,0,0,0,0,0,0,9,0]},
{"r":186,"n":"Orf67_113980.5","v":[8,0,6,7,9,10,10,9,9,10,9,9,0,9,9,9,0,7,4,6,0,0,9,0,8,0,0,3,3,2,3,4,0,0,0]},
{"r":187,"n":"Orf66_114453.5","v":[8,7,7,0,9,10,10,9,9,10,9,9,7,8,9,9,0,7,10,9,0,0,9,0,9,0,0,0,0,0,0,3,0,8,0]},
{"r":188,"n":"Orf61_98515","v":[8,8,8,9,9,10,10,10,9,10,11,10,9,9,9,9,0,7,9,8,0,0,9,5,9,3,1,0,4,9,0,6,0,0,0]},
{"r":189,"n":"Orf59_96407","v":[8,8,8,0,9,10,11,11,9,10,10,10,9,9,9,10,7,5,4,9,0,0,8,7,9,0,0,0,0,0,0,8,8,0,0]},
{"r":190,"n":"Orf60_97630","v":[7,9,8,8,9,10,10,10,9,10,11,10,9,9,9,9,5,3,0,9,0,0,8,7,9,0,0,0,0,0,4,0,8,0,8]},
{"r":191,"n":"Orf66_112774","v":[4,0,7,8,3,10,10,9,9,10,11,10,8,5,9,9,0,7,9,9,0,0,9,7,9,0,0,0,2,0,3,9,4,0,3]},
{"r":192,"n":"Orf50_73509","v":[10,10,8,8,0,10,10,10,9,9,10,10,9,9,9,9,0,7,8,9,0,0,9,9,9,0,0,5,0,0,0,0,0,0,0]},
{"r":193,"n":"Orf57_83032","v":[9,9,8,8,0,10,10,10,9,10,11,10,9,9,9,9,0,8,12,9,12,0,9,0,0,0,0,0,0,0,0,8,0,0,0]},
{"r":194,"n":"Orf47_69773.5","v":[11,9,8,0,0,9,10,10,9,10,10,10,0,9,9,9,8,7,12,9,0,3,9,0,0,0,0,0,5,0,0,0,8,0,0]},
{"r":195,"n":"vIRF4_86524.5","v":[10,9,0,0,0,9,10,10,8,10,11,10,10,8,10,9,8,8,11,9,0,0,9,0,0,0,0,0,0,0,0,0,0,0,0]},
{"r":196,"n":"Orf52_77022.5","v":[10,0,0,0,9,9,10,10,8,10,10,10,10,8,3,9,0,8,11,9,0,0,9,0,0,0,0,0,0,0,0,7,8,0,0]},
{"r":197,"n":"Orf56_81267.5","v":[0,9,0,3,4,9,10,9,7,10,10,10,9,8,0,9,0,8,12,5,0,9,8,0,0,0,0,2,0,0,5,0,8,0,0]},
{"r":198,"n":"vIRF4_86975","v":[6,9,0,6,4,9,10,9,3,10,11,10,10,9,9,9,5,8,12,9,0,3,5,5,9,0,4,5,3,5,5,0,8,4,2]},
{"r":199,"n":"Orf62_100977","v":[6,7,0,7,3,10,10,9,9,10,10,10,9,6,9,9,8,8,12,9,0,0,8,6,9,0,5,4,0,3,5,9,8,0,0]},
{"r":200,"n":"Orf65_112376","v":[0,7,0,8,3,10,10,9,9,10,11,10,9,9,9,10,7,8,12,9,0,2,9,2,9,0,4,5,4,5,6,6,8,0,2]},
{"r":201,"n":"Orf66_114218","v":[0,7,7,4,2,10,10,9,9,10,10,10,8,9,9,9,8,8,12,9,7,0,9,0,9,0,2,4,4,5,5,0,8,0,5]},
{"r":202,"n":"vIRF4_86418","v":[0,7,7,8,8,9,9,7,8,10,11,9,5,9,8,9,7,8,12,8,0,0,8,8,8,3,0,0,0,2,0,2,9,9,0]},
{"r":203,"n":"Orf58_95417","v":[8,8,8,8,0,9,9,9,9,10,10,9,6,9,9,10,7,5,10,8,0,0,9,9,9,0,0,0,0,0,0,9,8,8,8]},
{"r":204,"n":"Orf42_62906.5","v":[10,8,8,9,0,8,8,9,8,9,10,9,0,8,0,0,7,7,10,8,0,0,0,0,0,0,3,0,3,0,0,8,0,0,2]},
{"r":205,"n":"Orf42_62756.5","v":[3,8,8,9,0,8,9,9,8,9,10,9,8,9,9,0,0,8,10,8,0,0,8,0,0,0,0,0,0,0,0,8,0,0,0]},
{"r":206,"n":"vIRF1_84086","v":[4,8,0,8,0,9,9,8,7,8,9,9,6,8,9,8,8,7,10,8,0,0,8,0,8,6,0,0,0,0,0,0,0,0,0]},
{"r":207,"n":"vIRF1_84969","v":[6,8,4,7,8,9,9,9,8,9,10,9,4,8,9,5,0,7,8,8,3,0,3,8,5,0,2,7,4,0,4,9,3,6,4]},
{"r":208,"n":"Orf61_98072","v":[8,8,8,7,8,9,9,7,8,9,10,10,8,8,0,9,8,7,8,8,0,0,9,0,5,0,2,3,0,0,4,9,0,0,0]},
{"r":209,"n":"K14_128651","v":[3,5,0,7,9,9,8,9,8,7,9,10,8,10,9,8,8,7,10,8,0,0,0,2,2,4,0,0,0,0,0,0,0,9,8]},
{"r":210,"n":"LANA_124393.5","v":[7,6,0,9,0,7,8,8,10,8,9,9,0,0,9,9,8,7,7,8,0,9,0,0,0,11,1,0,0,0,0,0,0,9,8]},
{"r":211,"n":"K14_128145","v":[9,8,7,8,9,0,9,8,9,8,9,9,9,0,9,8,7,7,7,8,6,9,0,0,0,3,0,0,0,5,0,0,0,9,3]},
{"r":212,"n":"vIRF2_92617.5","v":[0,8,0,3,0,9,9,7,7,7,8,6,9,0,7,8,8,7,0,7,11,0,0,0,0,0,0,4,0,0,2,9,0,0,0]},
{"r":213,"n":"Orf43_64036.5","v":[0,8,8,8,8,8,9,8,7,9,9,8,4,0,7,8,0,7,9,3,0,0,3,0,2,0,0,7,0,0,4,0,0,0,0]},
{"r":214,"n":"Orf66_112971","v":[0,8,7,0,3,4,0,6,8,9,10,9,4,0,7,8,5,6,9,7,0,0,0,0,2,0,0,0,0,0,0,0,8,0,0]},
{"r":215,"n":"Orf21_36102.5","v":[6,3,7,8,9,9,8,9,5,7,6,0,7,4,5,7,7,4,9,7,5,4,7,8,3,7,2,7,7,8,9,8,7,7,9]},
{"r":216,"n":"LANA_124002","v":[9,7,7,9,10,9,9,9,10,9,6,4,0,7,5,7,8,7,10,9,11,9,8,4,1,1,2,5,2,0,4,8,5,5,5]},
{"r":217,"n":"K14_128349","v":[4,7,7,8,8,8,7,7,10,8,9,10,2,7,8,7,8,0,8,0,10,8,7,7,1,7,2,5,0,0,0,7,0,6,0]},
{"r":218,"n":"Orf11_16083","v":[8,8,8,8,10,9,9,9,9,9,9,9,8,7,8,7,8,6,7,7,10,0,7,7,0,6,1,6,2,1,4,5,6,5,8]},
{"r":219,"n":"Orf59_96078","v":[3,0,4,3,5,4,5,5,5,6,7,6,2,5,5,5,0,8,11,9,0,0,4,4,7,6,3,0,7,0,4,3,6,3,5]},
{"r":220,"n":"Orf68_115807","v":[0,6,2,7,10,9,6,4,9,10,9,9,0,0,0,8,0,8,12,9,7,0,9,0,6,10,9,3,5,0,6,10,5,0,4]},
{"r":221,"n":"Orf55_79044","v":[10,8,8,0,0,6,8,5,8,10,9,9,5,9,8,8,8,8,13,11,11,10,6,8,8,0,0,4,3,2,0,5,5,0,4]},
{"r":222,"n":"Orf63_103119","v":[4,5,5,0,3,9,7,5,8,10,10,8,5,8,7,0,0,8,13,12,3,8,8,8,8,0,0,3,4,0,0,5,7,3,0]},
{"r":223,"n":"Orf50_72965","v":[4,7,5,7,7,9,8,8,9,10,10,9,3,8,7,9,5,8,12,9,0,0,8,8,7,0,0,4,5,0,0,6,7,0,8]},
{"r":224,"n":"Orf61_98333","v":[3,8,0,7,8,9,9,8,8,10,9,9,7,7,8,8,5,7,10,9,11,5,8,7,7,9,8,4,5,0,2,2,6,0,5]},
{"r":225,"n":"Orf58_94692","v":[8,8,8,5,8,9,9,9,8,9,9,9,8,7,0,8,7,7,10,9,9,5,8,8,4,7,4,3,7,0,0,0,7,0,0]},
{"r":226,"n":"Orf58_94950","v":[8,8,8,3,6,9,9,9,8,10,11,9,10,10,10,10,0,6,8,4,0,5,8,9,8,8,4,0,0,0,7,0,7,4,4]}
]},
"layer":[
{"transform":[{"flatten":["v"]},{"window":[{"op":"row_number","as":"c"}],"groupby":["r"]}],"mark":{"type":"rect","width":11.7,"height":7.2},"encoding":{"x":{"field":"c","type":"quantitative","scale":{"domain":[-7.706,41.89],"nice":false,"zero":false}},"y":{"field":"r","type":"quantitative","scale":{"domain":[232,-23.9],"nice":false,"zero":false}},"color":{"field":"v","type":"ordinal","legend":null,"scale":{"domain":[0,1,2,3,4,5,6,7,8,9,10,11,12,13],"range":["#0e1a78","#14208a","#253c9c","#4a70b2","#82acd6","#bfdcec","#eaf5e6","#fff4ad","#fbd07a","#ef9035","#e36f1c","#d84f0c","#b92c00","#8c1a00"]}}}},
{"mark":{"type":"rule","color":"white","strokeWidth":3},"encoding":{"x":{"datum":16.37,"type":"quantitative","scale":{"domain":[-7.706,41.89],"nice":false,"zero":false}},"y":{"datum":0.4,"type":"quantitative","scale":{"domain":[232,-23.9],"nice":false,"zero":false}},"y2":{"datum":226.6}}},
{"mark":{"type":"rule","color":"white","strokeWidth":3},"encoding":{"y":{"datum":100.7,"type":"quantitative","scale":{"domain":[232,-23.9],"nice":false,"zero":false}},"x":{"datum":0.4,"type":"quantitative","scale":{"domain":[-7.706,41.89],"nice":false,"zero":false}},"x2":{"datum":35.6}}},
{"mark":{"type":"rule","color":"white","strokeWidth":3},"encoding":{"y":{"datum":134.07,"type":"quantitative","scale":{"domain":[232,-23.9],"nice":false,"zero":false}},"x":{"datum":0.4,"type":"quantitative","scale":{"domain":[-7.706,41.89],"nice":false,"zero":false}},"x2":{"datum":35.6}}},
{"transform":[{"filter":"indexof(datum.n,'LANA')==0"}],"mark":{"type":"rule","color":"#a5e28c","strokeWidth":6.6},"encoding":{"x":{"datum":-7.53,"type":"quantitative","scale":{"domain":[-7.706,41.89],"nice":false,"zero":false}},"x2":{"datum":-0.04},"y":{"field":"r","type":"quantitative","scale":{"domain":[232,-23.9],"nice":false,"zero":false}}}},
{"transform":[{"filter":"indexof(datum.n,'K14')==0"}],"mark":{"type":"rule","color":"#f6f18a","strokeWidth":6.6},"encoding":{"x":{"datum":-5.36,"type":"quantitative","scale":{"domain":[-7.706,41.89],"nice":false,"zero":false}},"x2":{"datum":-0.04},"y":{"field":"r","type":"quantitative","scale":{"domain":[232,-23.9],"nice":false,"zero":false}}}},
{"mark":{"type":"text","align":"right","baseline":"middle","font":"Liberation Sans","fontSize":8.3,"color":"#333333"},"encoding":{"x":{"datum":-0.04,"type":"quantitative","scale":{"domain":[-7.706,41.89],"nice":false,"zero":false}},"y":{"field":"r","type":"quantitative","scale":{"domain":[232,-23.9],"nice":false,"zero":false}},"text":{"field":"n"}}},
{"data":{"name":"cols"},"mark":{"type":"text","angle":90,"align":"left","baseline":"middle","font":"Liberation Sans","fontSize":11.3,"color":"#222222"},"encoding":{"x":{"field":"c","type":"quantitative","scale":{"domain":[-7.706,41.89],"nice":false,"zero":false}},"y":{"datum":228,"type":"quantitative","scale":{"domain":[232,-23.9],"nice":false,"zero":false}},"text":{"field":"n"}}},
{"data":{"name":"td"},"mark":{"type":"rule","color":"#333333","strokeWidth":1.2},"encoding":{"x":{"field":"a","type":"quantitative","scale":{"domain":[-7.706,41.89],"nice":false,"zero":false}},"y":{"field":"t","type":"quantitative","scale":{"domain":[232,-23.9],"nice":false,"zero":false}},"y2":{"field":"l"}}},
{"data":{"name":"td"},"mark":{"type":"rule","color":"#333333","strokeWidth":1.2},"encoding":{"x":{"field":"b","type":"quantitative","scale":{"domain":[-7.706,41.89],"nice":false,"zero":false}},"y":{"field":"t","type":"quantitative","scale":{"domain":[232,-23.9],"nice":false,"zero":false}},"y2":{"field":"r"}}},
{"data":{"name":"td"},"mark":{"type":"rule","color":"#333333","strokeWidth":1.2},"encoding":{"x":{"field":"a","type":"quantitative","scale":{"domain":[-7.706,41.89],"nice":false,"zero":false}},"x2":{"field":"b"},"y":{"field":"t","type":"quantitative","scale":{"domain":[232,-23.9],"nice":false,"zero":false}}}},
{"data":{"name":"rd"},"mark":{"type":"rule","color":"#222222","strokeWidth":1.2},"encoding":{"x":{"field":"t","type":"quantitative","scale":{"domain":[-7.706,41.89],"nice":false,"zero":false}},"y":{"field":"a","type":"quantitative","scale":{"domain":[232,-23.9],"nice":false,"zero":false}},"y2":{"field":"b"}}},
{"data":{"name":"rd"},"mark":{"type":"rule","color":"#333333","strokeWidth":1.2},"encoding":{"x":{"field":"t","type":"quantitative","scale":{"domain":[-7.706,41.89],"nice":false,"zero":false}},"x2":{"field":"l"},"y":{"field":"a","type":"quantitative","scale":{"domain":[232,-23.9],"nice":false,"zero":false}}}},
{"data":{"name":"rd"},"mark":{"type":"rule","color":"#333333","strokeWidth":1.2},"encoding":{"x":{"field":"t","type":"quantitative","scale":{"domain":[-7.706,41.89],"nice":false,"zero":false}},"x2":{"field":"r"},"y":{"field":"b","type":"quantitative","scale":{"domain":[232,-23.9],"nice":false,"zero":false}}}},
{"data":{"name":"ann"},"transform":[{"filter":"datum.f=='k'"}],"mark":{"type":"text","align":"center","baseline":"alphabetic","font":"Liberation Sans","fontWeight":"bold","fontSize":54,"color":"#000000"},"encoding":{"x":{"field":"x","type":"quantitative","scale":{"domain":[-7.706,41.89],"nice":false,"zero":false}},"y":{"field":"y","type":"quantitative","scale":{"domain":[232,-23.9],"nice":false,"zero":false}},"text":{"field":"s"}}},
{"data":{"name":"ann"},"transform":[{"filter":"datum.f=='g'"}],"mark":{"type":"text","align":"left","baseline":"alphabetic","font":"Liberation Sans","fontWeight":"bold","fontSize":48,"color":"#808080"},"encoding":{"x":{"field":"x","type":"quantitative","scale":{"domain":[-7.706,41.89],"nice":false,"zero":false}},"y":{"field":"y","type":"quantitative","scale":{"domain":[232,-23.9],"nice":false,"zero":false}},"text":{"field":"s"}}}
]}
